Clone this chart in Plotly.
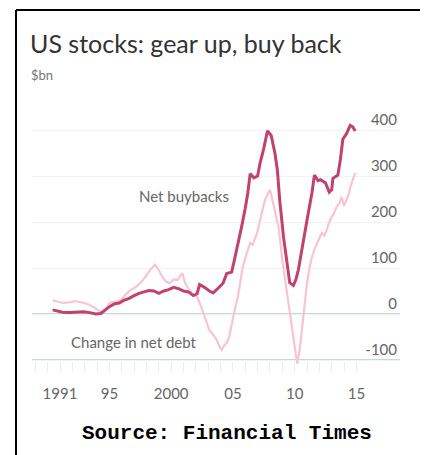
import plotly.graph_objects as go

# ---- data ----
buyback_years = [1990.4, 1990.8, 1991.2, 1991.8, 1992.4, 1992.9, 1993.4, 1993.9, 1994.3, 1994.7,
                 1995.0, 1995.4, 1995.8, 1996.2, 1996.6, 1997.0, 1997.4, 1997.8, 1998.2, 1998.6,
                 1999.0, 1999.4, 1999.8, 2000.2, 2000.6, 2001.0, 2001.4, 2001.8, 2002.1, 2002.3,
                 2002.7, 2003.1, 2003.4, 2003.8, 2004.2, 2004.5, 2004.9, 2005.1, 2005.4, 2005.7,
                 2006.0, 2006.2, 2006.4, 2006.7, 2007.0, 2007.2, 2007.5, 2007.8, 2008.1, 2008.4,
                 2008.6, 2008.8, 2009.1, 2009.4, 2009.6, 2009.9, 2010.1, 2010.3, 2010.6, 2011.0,
                 2011.4, 2011.6, 2011.9, 2012.1, 2012.5, 2012.8, 2013.0, 2013.1, 2013.5, 2013.7,
                 2013.9, 2014.2, 2014.5, 2014.7, 2014.9]
net_buybacks = [9, 7, 4, 3, 4, 5, 3, 0, 1, 10,
                16, 22, 24, 30, 34, 40, 45, 48, 51, 50,
                45, 50, 53, 58, 55, 50, 48, 40, 44, 64,
                58, 50, 46, 56, 67, 88, 91, 115, 150, 189,
                230, 262, 305, 296, 300, 328, 360, 398, 388, 350,
                313, 245, 167, 102, 68, 62, 75, 96, 139, 204,
                263, 302, 290, 292, 285, 265, 270, 295, 302, 335,
                380, 392, 410, 407, 398]

debt_years = [1990.4, 1990.8, 1991.2, 1991.7, 1992.2, 1992.6, 1993.2, 1993.7, 1994.1, 1994.5,
              1994.8, 1995.0, 1995.5, 1995.9, 1996.3, 1996.7, 1997.1, 1997.5, 1997.9, 1998.3,
              1998.7, 1999.0, 1999.3, 1999.6, 1999.9, 2000.2, 2000.5, 2000.9, 2001.1, 2001.3,
              2001.7, 2002.1, 2002.4, 2002.6, 2002.9, 2003.1, 2003.4, 2003.7, 2003.9, 2004.1,
              2004.3, 2004.5, 2004.7, 2005.0, 2005.2, 2005.4, 2005.6, 2005.8, 2006.1, 2006.4,
              2006.6, 2006.8, 2007.0, 2007.2, 2007.4, 2007.6, 2007.8, 2008.0, 2008.2, 2008.4,
              2008.7, 2009.0, 2009.2, 2009.4, 2009.6, 2009.8, 2010.0, 2010.2, 2010.4, 2010.6,
              2010.8, 2011.0, 2011.2, 2011.4, 2011.6, 2011.8, 2012.0, 2012.2, 2012.4, 2012.6,
              2012.8, 2013.0, 2013.2, 2013.4, 2013.6, 2013.8, 2014.0, 2014.2, 2014.4, 2014.5,
              2014.7, 2014.9]
net_debt_change = [30, 27, 24, 25, 28, 26, 22, 15, 8, 2,
                   14, 24, 27, 30, 42, 52, 58, 67, 80, 96,
                   107, 95, 80, 70, 67, 75, 74, 89, 70, 59,
                   45, 37, 18, 2, -20, -35, -45, -57, -70, -78,
                   -68, -63, -50, -7, 15, 37, 70, 102, 130, 154,
                   150, 165, 180, 204, 225, 248, 260, 270, 248, 225,
                   189, 117, 80, 46, 10, -28, -70, -108, -80, -30,
                   20, 67, 100, 124, 140, 154, 165, 176, 170, 183,
                   200, 211, 220, 233, 240, 254, 235, 248, 262, 276,
                   290, 307]

x_tick_vals = [1991, 1995, 2000, 2005, 2010, 2015]
x_tick_text = ["1991", "95", "2000", "05", "10", "15"]
y_tick_vals = [-100, 0, 100, 200, 300, 400]
y_tick_text = ["-100", "0", "100", "200", "300", "400"]
strong_gridlines = [0, -100]

# ---- layout geometry (page pixels; the page body adds an 8px margin) ----
OFF = 8
W, H = 428 - OFF, 455 - OFF
PLOT_L, PLOT_R, PLOT_T, PLOT_B = 32, 400, 100, 372   # page pixels
ML, MR = PLOT_L - OFF, (OFF + W) - PLOT_R
MT, MB = PLOT_T - OFF, (OFF + H) - PLOT_B
PW, PH = PLOT_R - PLOT_L, PLOT_B - PLOT_T

def px_x(p):
    return (p - PLOT_L) / PW

def px_y(p):
    return (PLOT_B - p) / PH

# y-range so that 0 sits at page y=314 and 100 units = 46px
Y_PER_PX = 100 / 46.0
y_top = (314 - PLOT_T) * Y_PER_PX
y_bot = -(PLOT_B - 314) * Y_PER_PX
# x-range so that 1991 sits at page x=60 and one year = 12.35px
x_left = 1991 - (60 - PLOT_L) / 12.35
x_right = 1991 + (PLOT_R - 60) / 12.35

DARK = "#c1416f"
LIGHT = "#f8c3d5"
TXT = "#666666"

fig = go.Figure()
fig.add_trace(go.Scatter(x=debt_years, y=net_debt_change, mode="lines",
                         line=dict(color=LIGHT, width=2.2), hoverinfo="skip",
                         showlegend=False))
fig.add_trace(go.Scatter(x=buyback_years, y=net_buybacks, mode="lines",
                         line=dict(color=DARK, width=3), hoverinfo="skip",
                         showlegend=False))

shapes = []
for g in strong_gridlines:
    shapes.append(dict(type="line", xref="paper", yref="y", x0=0, x1=1, y0=g, y1=g,
                       line=dict(color="#b9cbc6", width=1.5), layer="below"))
# page frame (top and left edges)
shapes.append(dict(type="line", xref="paper", yref="paper", x0=px_x(16), x1=px_x(432),
                   y0=px_y(10), y1=px_y(10), line=dict(color="black", width=2)))
shapes.append(dict(type="line", xref="paper", yref="paper", x0=px_x(16), x1=px_x(16),
                   y0=px_y(10), y1=px_y(460), line=dict(color="black", width=2)))

annotations = [
    dict(text="US stocks: gear up, buy back", xref="paper", yref="paper",
         x=px_x(28), y=px_y(43), xanchor="left", yanchor="middle", showarrow=False,
         font=dict(family="Lato", size=25, color="#333333")),
    dict(text="$bn", xref="paper", yref="paper",
         x=px_x(29), y=px_y(75), xanchor="left", yanchor="middle", showarrow=False,
         font=dict(family="Lato", size=13, color="#777777")),
    dict(text="Net buybacks", xref="paper", yref="paper",
         x=px_x(137), y=px_y(196), xanchor="left", yanchor="middle", showarrow=False,
         font=dict(family="Lato", size=15, color=TXT)),
    dict(text="Change in net debt", xref="paper", yref="paper",
         x=px_x(69), y=px_y(342), xanchor="left", yanchor="middle", showarrow=False,
         font=dict(family="Lato", size=15, color=TXT)),
    dict(text="<b>Source: Financial Times</b>", xref="paper", yref="paper",
         x=px_x(227), y=px_y(433), xanchor="center", yanchor="middle", showarrow=False,
         font=dict(family="Liberation Mono", size=21, color="black")),
]

fig.update_layout(
    width=W, height=H,
    margin=dict(l=ML, r=MR, t=MT, b=MB, pad=0),
    paper_bgcolor="white", plot_bgcolor="white",
    shapes=shapes, annotations=annotations,
    xaxis=dict(range=[x_left, x_right], tickvals=x_tick_vals, ticktext=x_tick_text,
               showgrid=False, zeroline=False, showline=False,
               ticks="inside", ticklen=10, tickcolor="#eeeeee", tickwidth=1,
               minor=dict(dtick=1, tick0=1991, ticks="inside", ticklen=10,
                          tickcolor="#eeeeee", showgrid=False),
               tickfont=dict(family="Lato", size=15, color=TXT),
               ticklabelstandoff=11, fixedrange=True),
    yaxis=dict(range=[y_bot, y_top], tickvals=y_tick_vals, ticktext=y_tick_text,
               side="right", ticklabelposition="inside top",
               showgrid=True, gridcolor="#f3f3f3", gridwidth=1,
               zeroline=False, showline=False, ticks="",
               tickfont=dict(family="Lato", size=15, color=TXT), fixedrange=True),
)

fig.write_html("out.html", config={"displayModeBar": False})
